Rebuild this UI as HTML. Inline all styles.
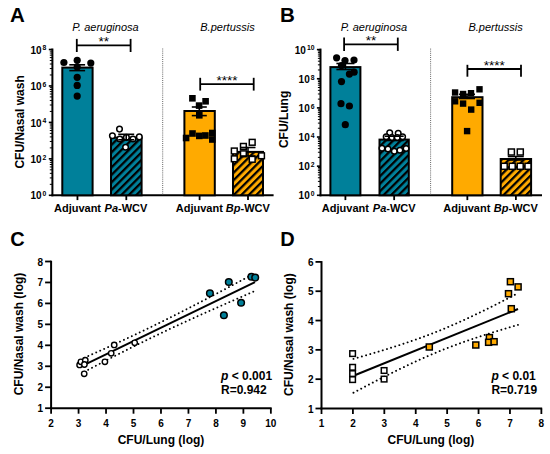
<!DOCTYPE html>
<html><head><meta charset="utf-8"><style>
html,body{margin:0;padding:0;background:#fff;width:550px;height:454px;overflow:hidden;}
svg{display:block;font-family:"Liberation Sans", sans-serif;}
</style></head><body>
<svg width="550" height="454" viewBox="0 0 550 454" font-family="&quot;Liberation Sans&quot;, sans-serif">
<defs>
<pattern id="h00809a" patternUnits="userSpaceOnUse" width="5.3" height="5.3" patternTransform="rotate(45)"><rect width="5.3" height="5.3" fill="#00809a"/><rect x="0" y="0" width="2.25" height="5.3" fill="#000"/></pattern>
<pattern id="hffaa00" patternUnits="userSpaceOnUse" width="5.3" height="5.3" patternTransform="rotate(45)"><rect width="5.3" height="5.3" fill="#ffaa00"/><rect x="0" y="0" width="2.25" height="5.3" fill="#000"/></pattern>
</defs>
<rect width="550" height="454" fill="#fff"/>
<text x="10.00" y="22.40" font-size="20.5" font-weight="bold" font-style="normal" text-anchor="start" >A</text>
<line x1="52.40" y1="48.50" x2="52.40" y2="196.30" stroke="#000" stroke-width="2" />
<line x1="48.80" y1="49.50" x2="52.40" y2="49.50" stroke="#000" stroke-width="1.6" />
<text x="46.40" y="53.60" font-size="10" font-weight="bold" text-anchor="end">10<tspan font-size="6.8" dx="1.0" dy="-3.3">8</tspan></text>
<line x1="48.80" y1="85.95" x2="52.40" y2="85.95" stroke="#000" stroke-width="1.6" />
<text x="46.40" y="90.05" font-size="10" font-weight="bold" text-anchor="end">10<tspan font-size="6.8" dx="1.0" dy="-3.3">6</tspan></text>
<line x1="48.80" y1="122.40" x2="52.40" y2="122.40" stroke="#000" stroke-width="1.6" />
<text x="46.40" y="126.50" font-size="10" font-weight="bold" text-anchor="end">10<tspan font-size="6.8" dx="1.0" dy="-3.3">4</tspan></text>
<line x1="48.80" y1="158.85" x2="52.40" y2="158.85" stroke="#000" stroke-width="1.6" />
<text x="46.40" y="162.95" font-size="10" font-weight="bold" text-anchor="end">10<tspan font-size="6.8" dx="1.0" dy="-3.3">2</tspan></text>
<line x1="48.80" y1="195.30" x2="52.40" y2="195.30" stroke="#000" stroke-width="1.6" />
<text x="46.40" y="199.40" font-size="10" font-weight="bold" text-anchor="end">10<tspan font-size="6.8" dx="1.0" dy="-3.3">0</tspan></text>
<line x1="49.80" y1="74.98" x2="52.40" y2="74.98" stroke="#000" stroke-width="1.0" />
<line x1="49.80" y1="68.56" x2="52.40" y2="68.56" stroke="#000" stroke-width="1.0" />
<line x1="49.80" y1="64.00" x2="52.40" y2="64.00" stroke="#000" stroke-width="1.0" />
<line x1="49.80" y1="60.47" x2="52.40" y2="60.47" stroke="#000" stroke-width="1.0" />
<line x1="49.80" y1="57.59" x2="52.40" y2="57.59" stroke="#000" stroke-width="1.0" />
<line x1="49.80" y1="55.15" x2="52.40" y2="55.15" stroke="#000" stroke-width="1.0" />
<line x1="49.80" y1="53.03" x2="52.40" y2="53.03" stroke="#000" stroke-width="1.0" />
<line x1="49.80" y1="51.17" x2="52.40" y2="51.17" stroke="#000" stroke-width="1.0" />
<line x1="49.80" y1="111.43" x2="52.40" y2="111.43" stroke="#000" stroke-width="1.0" />
<line x1="49.80" y1="105.01" x2="52.40" y2="105.01" stroke="#000" stroke-width="1.0" />
<line x1="49.80" y1="100.45" x2="52.40" y2="100.45" stroke="#000" stroke-width="1.0" />
<line x1="49.80" y1="96.92" x2="52.40" y2="96.92" stroke="#000" stroke-width="1.0" />
<line x1="49.80" y1="94.04" x2="52.40" y2="94.04" stroke="#000" stroke-width="1.0" />
<line x1="49.80" y1="91.60" x2="52.40" y2="91.60" stroke="#000" stroke-width="1.0" />
<line x1="49.80" y1="89.48" x2="52.40" y2="89.48" stroke="#000" stroke-width="1.0" />
<line x1="49.80" y1="87.62" x2="52.40" y2="87.62" stroke="#000" stroke-width="1.0" />
<line x1="49.80" y1="147.88" x2="52.40" y2="147.88" stroke="#000" stroke-width="1.0" />
<line x1="49.80" y1="141.46" x2="52.40" y2="141.46" stroke="#000" stroke-width="1.0" />
<line x1="49.80" y1="136.90" x2="52.40" y2="136.90" stroke="#000" stroke-width="1.0" />
<line x1="49.80" y1="133.37" x2="52.40" y2="133.37" stroke="#000" stroke-width="1.0" />
<line x1="49.80" y1="130.49" x2="52.40" y2="130.49" stroke="#000" stroke-width="1.0" />
<line x1="49.80" y1="128.05" x2="52.40" y2="128.05" stroke="#000" stroke-width="1.0" />
<line x1="49.80" y1="125.93" x2="52.40" y2="125.93" stroke="#000" stroke-width="1.0" />
<line x1="49.80" y1="124.07" x2="52.40" y2="124.07" stroke="#000" stroke-width="1.0" />
<line x1="49.80" y1="184.33" x2="52.40" y2="184.33" stroke="#000" stroke-width="1.0" />
<line x1="49.80" y1="177.91" x2="52.40" y2="177.91" stroke="#000" stroke-width="1.0" />
<line x1="49.80" y1="173.35" x2="52.40" y2="173.35" stroke="#000" stroke-width="1.0" />
<line x1="49.80" y1="169.82" x2="52.40" y2="169.82" stroke="#000" stroke-width="1.0" />
<line x1="49.80" y1="166.94" x2="52.40" y2="166.94" stroke="#000" stroke-width="1.0" />
<line x1="49.80" y1="164.50" x2="52.40" y2="164.50" stroke="#000" stroke-width="1.0" />
<line x1="49.80" y1="162.38" x2="52.40" y2="162.38" stroke="#000" stroke-width="1.0" />
<line x1="49.80" y1="160.52" x2="52.40" y2="160.52" stroke="#000" stroke-width="1.0" />
<line x1="51.40" y1="195.30" x2="273.60" y2="195.30" stroke="#000" stroke-width="2" />
<rect x="62.30" y="67.60" width="30.30" height="127.70" fill="#00809a" stroke="#000" stroke-width="2"/>
<line x1="77.45" y1="195.30" x2="77.45" y2="200.10" stroke="#000" stroke-width="1.8" />
<rect x="111.00" y="137.60" width="30.60" height="57.70" fill="url(#h00809a)" stroke="#000" stroke-width="2"/>
<line x1="126.30" y1="195.30" x2="126.30" y2="200.10" stroke="#000" stroke-width="1.8" />
<rect x="184.40" y="111.00" width="30.40" height="84.30" fill="#ffaa00" stroke="#000" stroke-width="2"/>
<line x1="199.60" y1="195.30" x2="199.60" y2="200.10" stroke="#000" stroke-width="1.8" />
<rect x="233.00" y="151.90" width="30.00" height="43.40" fill="url(#hffaa00)" stroke="#000" stroke-width="2"/>
<line x1="248.00" y1="195.30" x2="248.00" y2="200.10" stroke="#000" stroke-width="1.8" />
<text x="77.50" y="211.50" font-size="11" font-weight="bold" font-style="normal" text-anchor="middle" >Adjuvant</text>
<text x="126.00" y="211.5" font-size="11" font-weight="bold" text-anchor="middle"><tspan font-style="italic">Pa</tspan>-WCV</text>
<text x="199.30" y="211.50" font-size="11" font-weight="bold" font-style="normal" text-anchor="middle" >Adjuvant</text>
<text x="247.80" y="211.5" font-size="11" font-weight="bold" text-anchor="middle"><tspan font-style="italic">Bp</tspan>-WCV</text>
<text x="105.40" y="31.30" font-size="11" font-weight="normal" font-style="italic" text-anchor="middle" >P. aeruginosa</text>
<text x="227.50" y="30.80" font-size="11" font-weight="normal" font-style="italic" text-anchor="middle" >B.pertussis</text>
<line x1="76.80" y1="45.40" x2="130.60" y2="45.40" stroke="#000" stroke-width="1.8" />
<line x1="76.80" y1="38.90" x2="76.80" y2="52.00" stroke="#000" stroke-width="1.8" />
<line x1="130.60" y1="38.90" x2="130.60" y2="52.00" stroke="#000" stroke-width="1.8" />
<text x="103.70" y="46.00" font-size="13.5" font-weight="normal" font-style="normal" text-anchor="middle" >**</text>
<line x1="200.20" y1="84.10" x2="253.70" y2="84.10" stroke="#000" stroke-width="1.8" />
<line x1="200.20" y1="77.80" x2="200.20" y2="90.60" stroke="#000" stroke-width="1.8" />
<line x1="253.70" y1="77.80" x2="253.70" y2="90.60" stroke="#000" stroke-width="1.8" />
<text x="226.95" y="84.70" font-size="13.5" font-weight="normal" font-style="normal" text-anchor="middle" >****</text>
<line x1="162.7" y1="48.5" x2="162.7" y2="195.3" stroke="#666" stroke-width="1" stroke-dasharray="1 1.1"/>
<text transform="translate(23.70,121.90) rotate(-90)" x="0" y="0" font-size="12" font-weight="bold" text-anchor="middle">CFU/Nasal wash</text>
<line x1="77.20" y1="64.80" x2="77.20" y2="70.60" stroke="#000" stroke-width="1.6" />
<line x1="69.30" y1="64.80" x2="85.10" y2="64.80" stroke="#000" stroke-width="1.6" />
<line x1="69.30" y1="70.60" x2="85.10" y2="70.60" stroke="#000" stroke-width="1.6" />
<circle cx="63.90" cy="62.50" r="3.6" fill="#000" stroke="none" stroke-width="0"/>
<circle cx="77.20" cy="60.30" r="3.6" fill="#000" stroke="none" stroke-width="0"/>
<circle cx="90.80" cy="63.10" r="3.6" fill="#000" stroke="none" stroke-width="0"/>
<circle cx="77.20" cy="67.00" r="3.6" fill="#000" stroke="none" stroke-width="0"/>
<circle cx="77.20" cy="77.30" r="3.6" fill="#000" stroke="none" stroke-width="0"/>
<circle cx="77.20" cy="85.40" r="3.6" fill="#000" stroke="none" stroke-width="0"/>
<circle cx="77.20" cy="96.10" r="3.6" fill="#000" stroke="none" stroke-width="0"/>
<circle cx="119.50" cy="129.10" r="2.8" fill="#fff" stroke="#000" stroke-width="1.5"/>
<circle cx="112.40" cy="135.70" r="2.8" fill="#fff" stroke="#000" stroke-width="1.5"/>
<circle cx="139.30" cy="136.90" r="2.8" fill="#fff" stroke="#000" stroke-width="1.5"/>
<circle cx="125.60" cy="147.30" r="2.8" fill="#fff" stroke="#000" stroke-width="1.5"/>
<circle cx="119.80" cy="139.00" r="2.8" fill="#fff" stroke="#000" stroke-width="1.5"/>
<circle cx="133.00" cy="139.00" r="2.8" fill="#fff" stroke="#000" stroke-width="1.5"/>
<circle cx="126.40" cy="137.40" r="2.8" fill="#fff" stroke="#000" stroke-width="1.5"/>
<line x1="126.20" y1="134.30" x2="126.20" y2="139.80" stroke="#000" stroke-width="1.6" />
<line x1="118.20" y1="134.30" x2="134.20" y2="134.30" stroke="#000" stroke-width="1.6" />
<line x1="118.20" y1="139.80" x2="134.20" y2="139.80" stroke="#000" stroke-width="1.6" />
<line x1="199.30" y1="107.00" x2="199.30" y2="115.60" stroke="#000" stroke-width="1.6" />
<line x1="191.80" y1="107.00" x2="206.80" y2="107.00" stroke="#000" stroke-width="1.6" />
<line x1="191.80" y1="115.60" x2="206.80" y2="115.60" stroke="#000" stroke-width="1.6" />
<rect x="189.10" y="95.00" width="6.6" height="6.6" fill="#000" stroke="none" stroke-width="0"/>
<rect x="202.30" y="98.00" width="6.6" height="6.6" fill="#000" stroke="none" stroke-width="0"/>
<rect x="195.80" y="102.30" width="6.6" height="6.6" fill="#000" stroke="none" stroke-width="0"/>
<rect x="196.00" y="112.00" width="6.6" height="6.6" fill="#000" stroke="none" stroke-width="0"/>
<rect x="182.80" y="134.70" width="6.6" height="6.6" fill="#000" stroke="none" stroke-width="0"/>
<rect x="189.20" y="130.20" width="6.6" height="6.6" fill="#000" stroke="none" stroke-width="0"/>
<rect x="196.00" y="132.60" width="6.6" height="6.6" fill="#000" stroke="none" stroke-width="0"/>
<rect x="202.10" y="132.20" width="6.6" height="6.6" fill="#000" stroke="none" stroke-width="0"/>
<rect x="209.00" y="129.70" width="6.6" height="6.6" fill="#000" stroke="none" stroke-width="0"/>
<rect x="209.00" y="136.20" width="6.6" height="6.6" fill="#000" stroke="none" stroke-width="0"/>
<rect x="240.50" y="143.50" width="5.8" height="5.8" fill="#fff" stroke="#000" stroke-width="1.5"/>
<rect x="249.30" y="139.40" width="5.8" height="5.8" fill="#fff" stroke="#000" stroke-width="1.5"/>
<rect x="231.40" y="148.10" width="5.8" height="5.8" fill="#fff" stroke="#000" stroke-width="1.5"/>
<rect x="231.40" y="155.90" width="5.8" height="5.8" fill="#fff" stroke="#000" stroke-width="1.5"/>
<rect x="240.50" y="150.90" width="5.8" height="5.8" fill="#fff" stroke="#000" stroke-width="1.5"/>
<rect x="249.30" y="156.40" width="5.8" height="5.8" fill="#fff" stroke="#000" stroke-width="1.5"/>
<rect x="258.60" y="152.90" width="5.8" height="5.8" fill="#fff" stroke="#000" stroke-width="1.5"/>
<line x1="248.00" y1="147.50" x2="248.00" y2="156.00" stroke="#000" stroke-width="1.6" />
<line x1="240.50" y1="147.50" x2="255.50" y2="147.50" stroke="#000" stroke-width="1.6" />
<line x1="240.50" y1="156.00" x2="255.50" y2="156.00" stroke="#000" stroke-width="1.6" />
<text x="280.00" y="22.40" font-size="20.5" font-weight="bold" font-style="normal" text-anchor="start" >B</text>
<line x1="320.50" y1="48.60" x2="320.50" y2="196.30" stroke="#000" stroke-width="2" />
<line x1="316.90" y1="49.60" x2="320.50" y2="49.60" stroke="#000" stroke-width="1.6" />
<text x="314.50" y="53.70" font-size="10" font-weight="bold" text-anchor="end">10<tspan font-size="6.8" dx="1.0" dy="-3.3">10</tspan></text>
<line x1="316.90" y1="78.74" x2="320.50" y2="78.74" stroke="#000" stroke-width="1.6" />
<text x="314.50" y="82.84" font-size="10" font-weight="bold" text-anchor="end">10<tspan font-size="6.8" dx="1.0" dy="-3.3">8</tspan></text>
<line x1="316.90" y1="107.88" x2="320.50" y2="107.88" stroke="#000" stroke-width="1.6" />
<text x="314.50" y="111.98" font-size="10" font-weight="bold" text-anchor="end">10<tspan font-size="6.8" dx="1.0" dy="-3.3">6</tspan></text>
<line x1="316.90" y1="137.02" x2="320.50" y2="137.02" stroke="#000" stroke-width="1.6" />
<text x="314.50" y="141.12" font-size="10" font-weight="bold" text-anchor="end">10<tspan font-size="6.8" dx="1.0" dy="-3.3">4</tspan></text>
<line x1="316.90" y1="166.16" x2="320.50" y2="166.16" stroke="#000" stroke-width="1.6" />
<text x="314.50" y="170.26" font-size="10" font-weight="bold" text-anchor="end">10<tspan font-size="6.8" dx="1.0" dy="-3.3">2</tspan></text>
<line x1="316.90" y1="195.30" x2="320.50" y2="195.30" stroke="#000" stroke-width="1.6" />
<text x="314.50" y="199.40" font-size="10" font-weight="bold" text-anchor="end">10<tspan font-size="6.8" dx="1.0" dy="-3.3">0</tspan></text>
<line x1="317.90" y1="69.97" x2="320.50" y2="69.97" stroke="#000" stroke-width="1.0" />
<line x1="317.90" y1="64.84" x2="320.50" y2="64.84" stroke="#000" stroke-width="1.0" />
<line x1="317.90" y1="61.20" x2="320.50" y2="61.20" stroke="#000" stroke-width="1.0" />
<line x1="317.90" y1="58.37" x2="320.50" y2="58.37" stroke="#000" stroke-width="1.0" />
<line x1="317.90" y1="56.06" x2="320.50" y2="56.06" stroke="#000" stroke-width="1.0" />
<line x1="317.90" y1="54.11" x2="320.50" y2="54.11" stroke="#000" stroke-width="1.0" />
<line x1="317.90" y1="52.42" x2="320.50" y2="52.42" stroke="#000" stroke-width="1.0" />
<line x1="317.90" y1="50.93" x2="320.50" y2="50.93" stroke="#000" stroke-width="1.0" />
<line x1="317.90" y1="99.11" x2="320.50" y2="99.11" stroke="#000" stroke-width="1.0" />
<line x1="317.90" y1="93.98" x2="320.50" y2="93.98" stroke="#000" stroke-width="1.0" />
<line x1="317.90" y1="90.34" x2="320.50" y2="90.34" stroke="#000" stroke-width="1.0" />
<line x1="317.90" y1="87.51" x2="320.50" y2="87.51" stroke="#000" stroke-width="1.0" />
<line x1="317.90" y1="85.20" x2="320.50" y2="85.20" stroke="#000" stroke-width="1.0" />
<line x1="317.90" y1="83.25" x2="320.50" y2="83.25" stroke="#000" stroke-width="1.0" />
<line x1="317.90" y1="81.56" x2="320.50" y2="81.56" stroke="#000" stroke-width="1.0" />
<line x1="317.90" y1="80.07" x2="320.50" y2="80.07" stroke="#000" stroke-width="1.0" />
<line x1="317.90" y1="128.25" x2="320.50" y2="128.25" stroke="#000" stroke-width="1.0" />
<line x1="317.90" y1="123.12" x2="320.50" y2="123.12" stroke="#000" stroke-width="1.0" />
<line x1="317.90" y1="119.48" x2="320.50" y2="119.48" stroke="#000" stroke-width="1.0" />
<line x1="317.90" y1="116.65" x2="320.50" y2="116.65" stroke="#000" stroke-width="1.0" />
<line x1="317.90" y1="114.34" x2="320.50" y2="114.34" stroke="#000" stroke-width="1.0" />
<line x1="317.90" y1="112.39" x2="320.50" y2="112.39" stroke="#000" stroke-width="1.0" />
<line x1="317.90" y1="110.70" x2="320.50" y2="110.70" stroke="#000" stroke-width="1.0" />
<line x1="317.90" y1="109.21" x2="320.50" y2="109.21" stroke="#000" stroke-width="1.0" />
<line x1="317.90" y1="157.39" x2="320.50" y2="157.39" stroke="#000" stroke-width="1.0" />
<line x1="317.90" y1="152.26" x2="320.50" y2="152.26" stroke="#000" stroke-width="1.0" />
<line x1="317.90" y1="148.62" x2="320.50" y2="148.62" stroke="#000" stroke-width="1.0" />
<line x1="317.90" y1="145.79" x2="320.50" y2="145.79" stroke="#000" stroke-width="1.0" />
<line x1="317.90" y1="143.48" x2="320.50" y2="143.48" stroke="#000" stroke-width="1.0" />
<line x1="317.90" y1="141.53" x2="320.50" y2="141.53" stroke="#000" stroke-width="1.0" />
<line x1="317.90" y1="139.84" x2="320.50" y2="139.84" stroke="#000" stroke-width="1.0" />
<line x1="317.90" y1="138.35" x2="320.50" y2="138.35" stroke="#000" stroke-width="1.0" />
<line x1="317.90" y1="186.53" x2="320.50" y2="186.53" stroke="#000" stroke-width="1.0" />
<line x1="317.90" y1="181.40" x2="320.50" y2="181.40" stroke="#000" stroke-width="1.0" />
<line x1="317.90" y1="177.76" x2="320.50" y2="177.76" stroke="#000" stroke-width="1.0" />
<line x1="317.90" y1="174.93" x2="320.50" y2="174.93" stroke="#000" stroke-width="1.0" />
<line x1="317.90" y1="172.62" x2="320.50" y2="172.62" stroke="#000" stroke-width="1.0" />
<line x1="317.90" y1="170.67" x2="320.50" y2="170.67" stroke="#000" stroke-width="1.0" />
<line x1="317.90" y1="168.98" x2="320.50" y2="168.98" stroke="#000" stroke-width="1.0" />
<line x1="317.90" y1="167.49" x2="320.50" y2="167.49" stroke="#000" stroke-width="1.0" />
<line x1="319.50" y1="195.30" x2="542.00" y2="195.30" stroke="#000" stroke-width="2" />
<rect x="330.40" y="67.10" width="30.00" height="128.20" fill="#00809a" stroke="#000" stroke-width="2"/>
<line x1="345.40" y1="195.30" x2="345.40" y2="200.10" stroke="#000" stroke-width="1.8" />
<rect x="379.50" y="139.60" width="29.30" height="55.70" fill="url(#h00809a)" stroke="#000" stroke-width="2"/>
<line x1="394.15" y1="195.30" x2="394.15" y2="200.10" stroke="#000" stroke-width="1.8" />
<rect x="452.20" y="97.20" width="30.30" height="98.10" fill="#ffaa00" stroke="#000" stroke-width="2"/>
<line x1="467.35" y1="195.30" x2="467.35" y2="200.10" stroke="#000" stroke-width="1.8" />
<rect x="500.70" y="159.00" width="30.40" height="36.30" fill="url(#hffaa00)" stroke="#000" stroke-width="2"/>
<line x1="515.90" y1="195.30" x2="515.90" y2="200.10" stroke="#000" stroke-width="1.8" />
<text x="345.40" y="211.50" font-size="11" font-weight="bold" font-style="normal" text-anchor="middle" >Adjuvant</text>
<text x="394.20" y="211.5" font-size="11" font-weight="bold" text-anchor="middle"><tspan font-style="italic">Pa</tspan>-WCV</text>
<text x="466.80" y="211.50" font-size="11" font-weight="bold" font-style="normal" text-anchor="middle" >Adjuvant</text>
<text x="515.80" y="211.5" font-size="11" font-weight="bold" text-anchor="middle"><tspan font-style="italic">Bp</tspan>-WCV</text>
<text x="373.90" y="30.50" font-size="11" font-weight="normal" font-style="italic" text-anchor="middle" >P. aeruginosa</text>
<text x="495.60" y="30.60" font-size="11" font-weight="normal" font-style="italic" text-anchor="middle" >B.pertussis</text>
<line x1="344.10" y1="44.40" x2="397.80" y2="44.40" stroke="#000" stroke-width="1.8" />
<line x1="344.10" y1="37.60" x2="344.10" y2="50.90" stroke="#000" stroke-width="1.8" />
<line x1="397.80" y1="37.60" x2="397.80" y2="50.90" stroke="#000" stroke-width="1.8" />
<text x="370.95" y="45.00" font-size="13.5" font-weight="normal" font-style="normal" text-anchor="middle" >**</text>
<line x1="467.40" y1="69.00" x2="521.00" y2="69.00" stroke="#000" stroke-width="1.8" />
<line x1="467.40" y1="64.80" x2="467.40" y2="76.70" stroke="#000" stroke-width="1.8" />
<line x1="521.00" y1="64.80" x2="521.00" y2="76.70" stroke="#000" stroke-width="1.8" />
<text x="494.20" y="69.60" font-size="13.5" font-weight="normal" font-style="normal" text-anchor="middle" >****</text>
<line x1="430.6" y1="48.6" x2="430.6" y2="195.3" stroke="#666" stroke-width="1" stroke-dasharray="1 1.1"/>
<text transform="translate(287.50,119.40) rotate(-90)" x="0" y="0" font-size="12" font-weight="bold" text-anchor="middle">CFU/Lung</text>
<line x1="345.40" y1="63.50" x2="345.40" y2="69.50" stroke="#000" stroke-width="1.6" />
<line x1="336.40" y1="63.50" x2="354.40" y2="63.50" stroke="#000" stroke-width="1.6" />
<line x1="336.40" y1="69.50" x2="354.40" y2="69.50" stroke="#000" stroke-width="1.6" />
<circle cx="336.60" cy="57.80" r="3.6" fill="#000" stroke="none" stroke-width="0"/>
<circle cx="345.00" cy="60.60" r="3.6" fill="#000" stroke="none" stroke-width="0"/>
<circle cx="354.00" cy="60.00" r="3.6" fill="#000" stroke="none" stroke-width="0"/>
<circle cx="341.50" cy="65.60" r="3.6" fill="#000" stroke="none" stroke-width="0"/>
<circle cx="349.40" cy="74.10" r="3.6" fill="#000" stroke="none" stroke-width="0"/>
<circle cx="354.10" cy="72.20" r="3.6" fill="#000" stroke="none" stroke-width="0"/>
<circle cx="341.50" cy="81.60" r="3.6" fill="#000" stroke="none" stroke-width="0"/>
<circle cx="341.00" cy="103.70" r="3.6" fill="#000" stroke="none" stroke-width="0"/>
<circle cx="349.40" cy="106.00" r="3.6" fill="#000" stroke="none" stroke-width="0"/>
<circle cx="345.30" cy="124.70" r="3.6" fill="#000" stroke="none" stroke-width="0"/>
<circle cx="389.70" cy="132.70" r="2.8" fill="#fff" stroke="#000" stroke-width="1.5"/>
<circle cx="398.20" cy="133.20" r="2.8" fill="#fff" stroke="#000" stroke-width="1.5"/>
<circle cx="386.20" cy="136.70" r="2.8" fill="#fff" stroke="#000" stroke-width="1.5"/>
<circle cx="392.00" cy="137.60" r="2.8" fill="#fff" stroke="#000" stroke-width="1.5"/>
<circle cx="397.30" cy="137.60" r="2.8" fill="#fff" stroke="#000" stroke-width="1.5"/>
<circle cx="402.60" cy="136.70" r="2.8" fill="#fff" stroke="#000" stroke-width="1.5"/>
<circle cx="382.00" cy="148.20" r="2.8" fill="#fff" stroke="#000" stroke-width="1.5"/>
<circle cx="388.00" cy="149.00" r="2.8" fill="#fff" stroke="#000" stroke-width="1.5"/>
<circle cx="394.30" cy="151.30" r="2.8" fill="#fff" stroke="#000" stroke-width="1.5"/>
<circle cx="399.90" cy="150.30" r="2.8" fill="#fff" stroke="#000" stroke-width="1.5"/>
<circle cx="406.10" cy="148.50" r="2.8" fill="#fff" stroke="#000" stroke-width="1.5"/>
<line x1="394.20" y1="136.20" x2="394.20" y2="140.50" stroke="#000" stroke-width="1.6" />
<line x1="384.70" y1="136.20" x2="403.70" y2="136.20" stroke="#000" stroke-width="1.6" />
<line x1="384.70" y1="140.50" x2="403.70" y2="140.50" stroke="#000" stroke-width="1.6" />
<line x1="467.00" y1="94.30" x2="467.00" y2="98.50" stroke="#000" stroke-width="1.6" />
<line x1="459.00" y1="94.30" x2="475.00" y2="94.30" stroke="#000" stroke-width="1.6" />
<line x1="459.00" y1="98.50" x2="475.00" y2="98.50" stroke="#000" stroke-width="1.6" />
<rect x="451.90" y="89.30" width="6.4" height="6.4" fill="#000" stroke="none" stroke-width="0"/>
<rect x="459.90" y="90.80" width="6.4" height="6.4" fill="#000" stroke="none" stroke-width="0"/>
<rect x="467.80" y="90.00" width="6.4" height="6.4" fill="#000" stroke="none" stroke-width="0"/>
<rect x="476.30" y="86.10" width="6.4" height="6.4" fill="#000" stroke="none" stroke-width="0"/>
<rect x="451.90" y="98.10" width="6.4" height="6.4" fill="#000" stroke="none" stroke-width="0"/>
<rect x="459.90" y="100.40" width="6.4" height="6.4" fill="#000" stroke="none" stroke-width="0"/>
<rect x="476.40" y="99.60" width="6.4" height="6.4" fill="#000" stroke="none" stroke-width="0"/>
<rect x="468.00" y="106.40" width="6.4" height="6.4" fill="#000" stroke="none" stroke-width="0"/>
<rect x="463.90" y="127.90" width="6.4" height="6.4" fill="#000" stroke="none" stroke-width="0"/>
<rect x="508.40" y="149.00" width="6.0" height="6.0" fill="#fff" stroke="#000" stroke-width="1.5"/>
<rect x="517.30" y="149.00" width="6.0" height="6.0" fill="#fff" stroke="#000" stroke-width="1.5"/>
<rect x="501.20" y="163.30" width="6.0" height="6.0" fill="#fff" stroke="#000" stroke-width="1.5"/>
<rect x="509.20" y="163.30" width="6.0" height="6.0" fill="#fff" stroke="#000" stroke-width="1.5"/>
<rect x="517.20" y="163.30" width="6.0" height="6.0" fill="#fff" stroke="#000" stroke-width="1.5"/>
<rect x="525.00" y="163.30" width="6.0" height="6.0" fill="#fff" stroke="#000" stroke-width="1.5"/>
<line x1="515.80" y1="156.50" x2="515.80" y2="160.00" stroke="#000" stroke-width="1.6" />
<line x1="507.80" y1="156.50" x2="523.80" y2="156.50" stroke="#000" stroke-width="1.6" />
<line x1="507.80" y1="160.00" x2="523.80" y2="160.00" stroke="#000" stroke-width="1.6" />
<g>
<text x="10.20" y="245.60" font-size="20" font-weight="bold" font-style="normal" text-anchor="start" >C</text>
<line x1="51.10" y1="260.70" x2="51.10" y2="409.00" stroke="#000" stroke-width="2" />
<line x1="45.10" y1="408.20" x2="51.10" y2="408.20" stroke="#000" stroke-width="1.8" />
<text x="43.10" y="412.20" font-size="10" font-weight="bold" font-style="normal" text-anchor="end" >1</text>
<line x1="45.10" y1="387.24" x2="51.10" y2="387.24" stroke="#000" stroke-width="1.8" />
<text x="43.10" y="391.24" font-size="10" font-weight="bold" font-style="normal" text-anchor="end" >2</text>
<line x1="45.10" y1="366.29" x2="51.10" y2="366.29" stroke="#000" stroke-width="1.8" />
<text x="43.10" y="370.29" font-size="10" font-weight="bold" font-style="normal" text-anchor="end" >3</text>
<line x1="45.10" y1="345.33" x2="51.10" y2="345.33" stroke="#000" stroke-width="1.8" />
<text x="43.10" y="349.33" font-size="10" font-weight="bold" font-style="normal" text-anchor="end" >4</text>
<line x1="45.10" y1="324.37" x2="51.10" y2="324.37" stroke="#000" stroke-width="1.8" />
<text x="43.10" y="328.37" font-size="10" font-weight="bold" font-style="normal" text-anchor="end" >5</text>
<line x1="45.10" y1="303.41" x2="51.10" y2="303.41" stroke="#000" stroke-width="1.8" />
<text x="43.10" y="307.41" font-size="10" font-weight="bold" font-style="normal" text-anchor="end" >6</text>
<line x1="45.10" y1="282.46" x2="51.10" y2="282.46" stroke="#000" stroke-width="1.8" />
<text x="43.10" y="286.46" font-size="10" font-weight="bold" font-style="normal" text-anchor="end" >7</text>
<line x1="45.10" y1="261.50" x2="51.10" y2="261.50" stroke="#000" stroke-width="1.8" />
<text x="43.10" y="265.50" font-size="10" font-weight="bold" font-style="normal" text-anchor="end" >8</text>
<line x1="50.10" y1="408.20" x2="271.66" y2="408.20" stroke="#000" stroke-width="2" />
<line x1="51.10" y1="408.20" x2="51.10" y2="413.70" stroke="#000" stroke-width="1.8" />
<text x="51.10" y="426.80" font-size="10" font-weight="bold" font-style="normal" text-anchor="middle" >2</text>
<line x1="78.57" y1="408.20" x2="78.57" y2="413.70" stroke="#000" stroke-width="1.8" />
<text x="78.57" y="426.80" font-size="10" font-weight="bold" font-style="normal" text-anchor="middle" >3</text>
<line x1="106.04" y1="408.20" x2="106.04" y2="413.70" stroke="#000" stroke-width="1.8" />
<text x="106.04" y="426.80" font-size="10" font-weight="bold" font-style="normal" text-anchor="middle" >4</text>
<line x1="133.51" y1="408.20" x2="133.51" y2="413.70" stroke="#000" stroke-width="1.8" />
<text x="133.51" y="426.80" font-size="10" font-weight="bold" font-style="normal" text-anchor="middle" >5</text>
<line x1="160.98" y1="408.20" x2="160.98" y2="413.70" stroke="#000" stroke-width="1.8" />
<text x="160.98" y="426.80" font-size="10" font-weight="bold" font-style="normal" text-anchor="middle" >6</text>
<line x1="188.45" y1="408.20" x2="188.45" y2="413.70" stroke="#000" stroke-width="1.8" />
<text x="188.45" y="426.80" font-size="10" font-weight="bold" font-style="normal" text-anchor="middle" >7</text>
<line x1="215.92" y1="408.20" x2="215.92" y2="413.70" stroke="#000" stroke-width="1.8" />
<text x="215.92" y="426.80" font-size="10" font-weight="bold" font-style="normal" text-anchor="middle" >8</text>
<line x1="243.39" y1="408.20" x2="243.39" y2="413.70" stroke="#000" stroke-width="1.8" />
<text x="243.39" y="426.80" font-size="10" font-weight="bold" font-style="normal" text-anchor="middle" >9</text>
<line x1="270.86" y1="408.20" x2="270.86" y2="413.70" stroke="#000" stroke-width="1.8" />
<text x="270.86" y="426.80" font-size="10" font-weight="bold" font-style="normal" text-anchor="middle" >10</text>
<text transform="translate(23.20,334.00) rotate(-90)" font-size="12" font-weight="bold" text-anchor="middle">CFU/Nasal wash (log)</text>
<text x="161.00" y="444.20" font-size="12" font-weight="bold" font-style="normal" text-anchor="middle" >CFU/Lung (log)</text>
<line x1="84.30" y1="364.80" x2="255.00" y2="282.06" stroke="#000" stroke-width="2" />
<polyline points="84.30,357.77 88.57,355.88 92.83,353.98 97.10,352.07 101.37,350.15 105.64,348.22 109.91,346.29 114.17,344.34 118.44,342.38 122.71,340.41 126.97,338.42 131.24,336.43 135.51,334.42 139.78,332.39 144.04,330.35 148.31,328.29 152.58,326.22 156.85,324.14 161.12,322.04 165.38,319.93 169.65,317.80 173.92,315.66 178.19,313.50 182.45,311.33 186.72,309.15 190.99,306.96 195.25,304.76 199.52,302.55 203.79,300.32 208.06,298.09 212.32,295.86 216.59,293.61 220.86,291.36 225.13,289.10 229.39,286.83 233.66,284.56 237.93,282.29 242.20,280.01 246.46,277.72 250.73,275.43 255.00,273.14" fill="none" stroke="#000" stroke-width="1.9" stroke-linecap="round" stroke-dasharray="0.05 4.3"/>
<polyline points="84.30,371.83 88.57,369.59 92.83,367.35 97.10,365.12 101.37,362.90 105.64,360.69 109.91,358.49 114.17,356.30 118.44,354.12 122.71,351.96 126.97,349.81 131.24,347.67 135.51,345.54 139.78,343.43 144.04,341.33 148.31,339.25 152.58,337.18 156.85,335.13 161.12,333.10 165.38,331.07 169.65,329.06 173.92,327.07 178.19,325.09 182.45,323.12 186.72,321.16 190.99,319.22 195.25,317.28 199.52,315.36 203.79,313.44 208.06,311.54 212.32,309.64 216.59,307.75 220.86,305.86 225.13,303.98 229.39,302.11 233.66,300.25 237.93,298.38 242.20,296.53 246.46,294.68 250.73,292.83 255.00,290.98" fill="none" stroke="#000" stroke-width="1.9" stroke-linecap="round" stroke-dasharray="0.05 4.3"/>
<circle cx="79.60" cy="364.90" r="2.7" fill="#fff" stroke="#000" stroke-width="1.4"/>
<circle cx="80.90" cy="361.80" r="2.7" fill="#fff" stroke="#000" stroke-width="1.4"/>
<circle cx="85.30" cy="360.20" r="2.7" fill="#fff" stroke="#000" stroke-width="1.4"/>
<circle cx="84.40" cy="364.50" r="2.7" fill="#fff" stroke="#000" stroke-width="1.4"/>
<circle cx="84.20" cy="373.80" r="2.7" fill="#fff" stroke="#000" stroke-width="1.4"/>
<circle cx="104.90" cy="361.80" r="2.7" fill="#fff" stroke="#000" stroke-width="1.4"/>
<circle cx="111.20" cy="353.30" r="2.7" fill="#fff" stroke="#000" stroke-width="1.4"/>
<circle cx="114.20" cy="344.90" r="2.7" fill="#fff" stroke="#000" stroke-width="1.4"/>
<circle cx="134.70" cy="342.80" r="2.7" fill="#fff" stroke="#000" stroke-width="1.4"/>
<circle cx="209.90" cy="293.20" r="3.3" fill="#00809a" stroke="#000" stroke-width="1.5"/>
<circle cx="228.80" cy="282.00" r="3.3" fill="#00809a" stroke="#000" stroke-width="1.5"/>
<circle cx="251.40" cy="276.80" r="3.3" fill="#00809a" stroke="#000" stroke-width="1.5"/>
<circle cx="255.20" cy="277.60" r="3.3" fill="#00809a" stroke="#000" stroke-width="1.5"/>
<circle cx="241.10" cy="302.70" r="3.3" fill="#00809a" stroke="#000" stroke-width="1.5"/>
<circle cx="223.90" cy="315.20" r="3.3" fill="#00809a" stroke="#000" stroke-width="1.5"/>
<text x="221" y="379.5" font-size="12" font-weight="bold"><tspan font-style="italic">p</tspan> &lt; 0.001</text>
<text x="221.00" y="393.50" font-size="12" font-weight="bold" font-style="normal" text-anchor="start" >R=0.942</text>
</g>
<text x="280.30" y="245.60" font-size="20" font-weight="bold" font-style="normal" text-anchor="start" >D</text>
<line x1="321.50" y1="261.10" x2="321.50" y2="409.30" stroke="#000" stroke-width="2" />
<line x1="315.50" y1="408.50" x2="321.50" y2="408.50" stroke="#000" stroke-width="1.8" />
<text x="313.50" y="412.50" font-size="10" font-weight="bold" font-style="normal" text-anchor="end" >1</text>
<line x1="315.50" y1="379.18" x2="321.50" y2="379.18" stroke="#000" stroke-width="1.8" />
<text x="313.50" y="383.18" font-size="10" font-weight="bold" font-style="normal" text-anchor="end" >2</text>
<line x1="315.50" y1="349.86" x2="321.50" y2="349.86" stroke="#000" stroke-width="1.8" />
<text x="313.50" y="353.86" font-size="10" font-weight="bold" font-style="normal" text-anchor="end" >3</text>
<line x1="315.50" y1="320.54" x2="321.50" y2="320.54" stroke="#000" stroke-width="1.8" />
<text x="313.50" y="324.54" font-size="10" font-weight="bold" font-style="normal" text-anchor="end" >4</text>
<line x1="315.50" y1="291.22" x2="321.50" y2="291.22" stroke="#000" stroke-width="1.8" />
<text x="313.50" y="295.22" font-size="10" font-weight="bold" font-style="normal" text-anchor="end" >5</text>
<line x1="315.50" y1="261.90" x2="321.50" y2="261.90" stroke="#000" stroke-width="1.8" />
<text x="313.50" y="265.90" font-size="10" font-weight="bold" font-style="normal" text-anchor="end" >6</text>
<line x1="320.50" y1="408.50" x2="542.17" y2="408.50" stroke="#000" stroke-width="2" />
<line x1="321.50" y1="408.50" x2="321.50" y2="414.00" stroke="#000" stroke-width="1.8" />
<text x="321.50" y="426.80" font-size="10" font-weight="bold" font-style="normal" text-anchor="middle" >1</text>
<line x1="352.91" y1="408.50" x2="352.91" y2="414.00" stroke="#000" stroke-width="1.8" />
<text x="352.91" y="426.80" font-size="10" font-weight="bold" font-style="normal" text-anchor="middle" >2</text>
<line x1="384.32" y1="408.50" x2="384.32" y2="414.00" stroke="#000" stroke-width="1.8" />
<text x="384.32" y="426.80" font-size="10" font-weight="bold" font-style="normal" text-anchor="middle" >3</text>
<line x1="415.73" y1="408.50" x2="415.73" y2="414.00" stroke="#000" stroke-width="1.8" />
<text x="415.73" y="426.80" font-size="10" font-weight="bold" font-style="normal" text-anchor="middle" >4</text>
<line x1="447.14" y1="408.50" x2="447.14" y2="414.00" stroke="#000" stroke-width="1.8" />
<text x="447.14" y="426.80" font-size="10" font-weight="bold" font-style="normal" text-anchor="middle" >5</text>
<line x1="478.55" y1="408.50" x2="478.55" y2="414.00" stroke="#000" stroke-width="1.8" />
<text x="478.55" y="426.80" font-size="10" font-weight="bold" font-style="normal" text-anchor="middle" >6</text>
<line x1="509.96" y1="408.50" x2="509.96" y2="414.00" stroke="#000" stroke-width="1.8" />
<text x="509.96" y="426.80" font-size="10" font-weight="bold" font-style="normal" text-anchor="middle" >7</text>
<line x1="541.37" y1="408.50" x2="541.37" y2="414.00" stroke="#000" stroke-width="1.8" />
<text x="541.37" y="426.80" font-size="10" font-weight="bold" font-style="normal" text-anchor="middle" >8</text>
<text transform="translate(293.30,334.60) rotate(-90)" font-size="12" font-weight="bold" text-anchor="middle">CFU/Nasal wash (log)</text>
<text x="430.90" y="444.20" font-size="12" font-weight="bold" font-style="normal" text-anchor="middle" >CFU/Lung (log)</text>
<line x1="353.50" y1="375.80" x2="518.00" y2="309.01" stroke="#000" stroke-width="2" />
<polyline points="353.50,358.90 357.61,357.73 361.73,356.55 365.84,355.36 369.95,354.16 374.06,352.95 378.18,351.72 382.29,350.48 386.40,349.22 390.51,347.94 394.62,346.64 398.74,345.31 402.85,343.97 406.96,342.60 411.07,341.20 415.19,339.77 419.30,338.30 423.41,336.80 427.52,335.27 431.64,333.70 435.75,332.09 439.86,330.44 443.98,328.75 448.09,327.03 452.20,325.26 456.31,323.46 460.43,321.62 464.54,319.74 468.65,317.84 472.76,315.90 476.88,313.94 480.99,311.94 485.10,309.93 489.21,307.89 493.32,305.83 497.44,303.75 501.55,301.66 505.66,299.55 509.77,297.42 513.89,295.29 518.00,293.14" fill="none" stroke="#000" stroke-width="1.9" stroke-linecap="round" stroke-dasharray="0.05 4.3"/>
<polyline points="353.50,392.70 357.61,390.53 361.73,388.37 365.84,386.22 369.95,384.08 374.06,381.95 378.18,379.84 382.29,377.75 386.40,375.67 390.51,373.61 394.62,371.57 398.74,369.55 402.85,367.56 406.96,365.59 411.07,363.65 415.19,361.74 419.30,359.87 423.41,358.03 427.52,356.22 431.64,354.45 435.75,352.72 439.86,351.03 443.98,349.38 448.09,347.77 452.20,346.20 456.31,344.66 460.43,343.16 464.54,341.69 468.65,340.26 472.76,338.86 476.88,337.48 480.99,336.14 485.10,334.81 489.21,333.51 493.32,332.23 497.44,330.97 501.55,329.72 505.66,328.50 509.77,327.28 513.89,326.08 518.00,324.89" fill="none" stroke="#000" stroke-width="1.9" stroke-linecap="round" stroke-dasharray="0.05 4.3"/>
<rect x="349.80" y="350.80" width="5.6" height="5.6" fill="#fff" stroke="#000" stroke-width="1.5"/>
<rect x="349.80" y="364.50" width="5.6" height="5.6" fill="#fff" stroke="#000" stroke-width="1.5"/>
<rect x="349.80" y="370.80" width="5.6" height="5.6" fill="#fff" stroke="#000" stroke-width="1.5"/>
<rect x="349.80" y="376.80" width="5.6" height="5.6" fill="#fff" stroke="#000" stroke-width="1.5"/>
<rect x="381.30" y="367.70" width="5.6" height="5.6" fill="#fff" stroke="#000" stroke-width="1.5"/>
<rect x="381.30" y="376.30" width="5.6" height="5.6" fill="#fff" stroke="#000" stroke-width="1.5"/>
<rect x="426.30" y="344.00" width="6.0" height="6.0" fill="#ffaa00" stroke="#000" stroke-width="1.5"/>
<rect x="472.80" y="342.00" width="6.0" height="6.0" fill="#ffaa00" stroke="#000" stroke-width="1.5"/>
<rect x="486.40" y="334.60" width="6.0" height="6.0" fill="#ffaa00" stroke="#000" stroke-width="1.5"/>
<rect x="485.60" y="339.30" width="6.0" height="6.0" fill="#ffaa00" stroke="#000" stroke-width="1.5"/>
<rect x="491.10" y="338.70" width="6.0" height="6.0" fill="#ffaa00" stroke="#000" stroke-width="1.5"/>
<rect x="508.30" y="305.70" width="6.0" height="6.0" fill="#ffaa00" stroke="#000" stroke-width="1.5"/>
<rect x="505.50" y="290.70" width="6.0" height="6.0" fill="#ffaa00" stroke="#000" stroke-width="1.5"/>
<rect x="507.40" y="278.70" width="6.0" height="6.0" fill="#ffaa00" stroke="#000" stroke-width="1.5"/>
<rect x="515.10" y="283.90" width="6.0" height="6.0" fill="#ffaa00" stroke="#000" stroke-width="1.5"/>
<text x="491.4" y="380.1" font-size="12" font-weight="bold"><tspan font-style="italic">p</tspan> &lt; 0.01</text>
<text x="491.40" y="394.00" font-size="12" font-weight="bold" font-style="normal" text-anchor="start" >R=0.719</text>
</svg>
</body></html>
